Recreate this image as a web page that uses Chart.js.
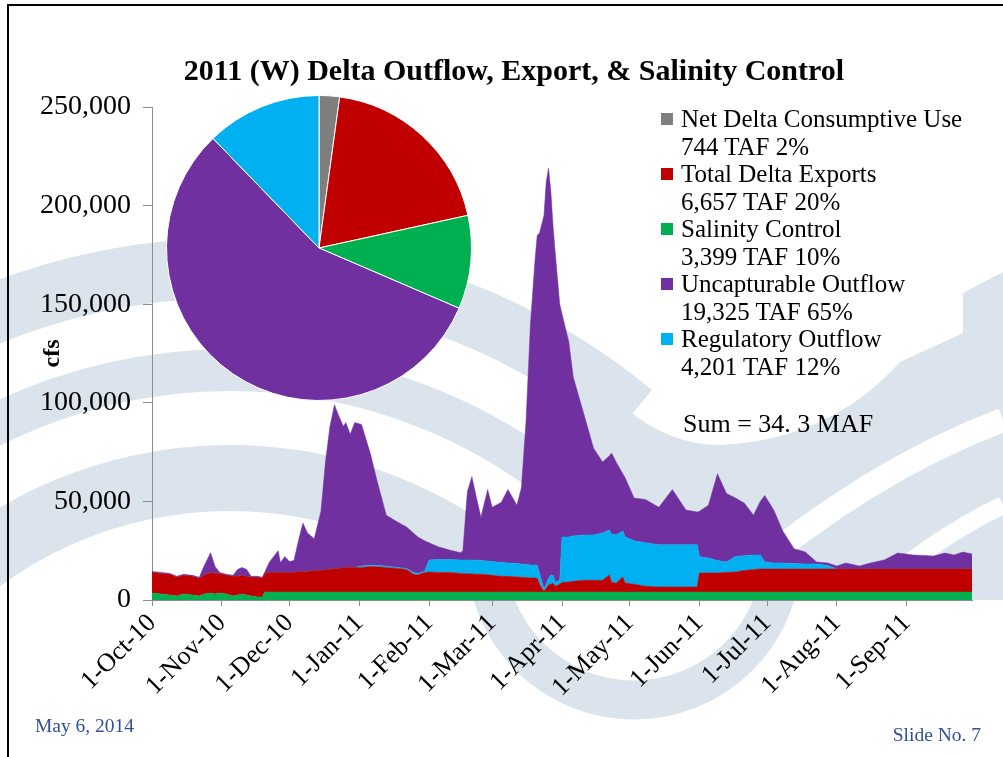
<!DOCTYPE html>
<html>
<head>
<meta charset="utf-8">
<script src="https://cdn.jsdelivr.net/npm/chart.js@4.4.1/dist/chart.umd.min.js"></script>
<style>
  html, body { margin: 0; padding: 0; background: #fff; }
  #stage { position: relative; width: 1003px; height: 757px; overflow: hidden;
           font-family: 'Liberation Serif', 'Times New Roman', serif; color: #000; }
  #bg, #mainChart, #pieChart { position: absolute; left: 0; top: 0; }
  #pieChart { left: 166px; top: 95px; }
  #frameTop { position: absolute; left: 8px; top: 4px; width: 995px; height: 2px; background: #000; }
  #frameLeft { position: absolute; left: 7px; top: 4px; width: 2px; height: 753px; background: #000; }
  #title { position: absolute; left: 0; width: 1028px; top: 51px; text-align: center;
           font-weight: bold; font-size: 30px; line-height: 38px; }
  #legend { position: absolute; left: 661px; top: 105px; font-size: 25px; line-height: 27.5px; }
  #legend .row { position: relative; padding-left: 20px; white-space: nowrap; }
  #legend .sw { position: absolute; left: 0; top: 8px; width: 12px; height: 12px; }
  #sum { position: absolute; left: 683px; top: 409px; font-size: 26px; line-height: 30px; }
  #date { position: absolute; left: 35px; top: 715px; font-size: 19.5px; color: #2f4f9a; }
  #slide { position: absolute; right: 22px; top: 724px; font-size: 19.5px; color: #2f4f9a; }
</style>
</head>
<body>
<div id="stage">
  <canvas id="bg" width="1003" height="757"></canvas>
  <div id="frameTop"></div>
  <div id="frameLeft"></div>
  <canvas id="mainChart" width="1003" height="757"></canvas>
  <canvas id="pieChart" width="306" height="306"></canvas>
  <div id="title">2011 (W) Delta Outflow, Export, &amp; Salinity Control</div>
  <div id="legend"></div>
  <div id="sum">Sum = 34. 3 MAF</div>
  <div id="date">May 6, 2014</div>
  <div id="slide">Slide No. 7</div>
</div>
<script>
// days since 1-Oct-10 (water year 2011)
const days = [
  0, 4, 8, 11, 14, 18, 21, 23, 26, 28,
  30, 33, 36, 38, 40, 42, 44, 47, 49, 50,
  52, 54, 56, 57, 59, 61, 63, 65, 67, 69,
  72, 75, 77, 79, 81, 83, 85, 86, 88, 90,
  93, 97, 100, 104, 109, 113, 116, 118, 121, 123,
  127, 132, 137, 138, 140, 142, 144, 146, 149, 151,
  155, 158, 162, 164, 166, 168, 170, 171, 172, 174,
  175, 176, 177, 178, 179, 181, 182, 185, 187, 192,
  196, 200, 203, 204, 206, 209, 210, 214, 219, 225,
  231, 237, 242, 243, 247, 251, 255, 259, 263, 267,
  270, 272, 276, 280, 285, 290, 295, 300, 304, 308,
  314, 319, 325, 331, 338, 347, 352, 356, 360, 364
];

// cfs, stacked bottom to top
const salinityControl = [
  3500, 3000, 2500, 2000, 3000, 2500, 2000, 3000, 3500, 3000,
  3500, 3000, 2000, 2500, 3000, 2500, 2000, 1500, 1500, 4000,
  4000, 4000, 4000, 4000, 4000, 4000, 4000, 4000, 4000, 4000,
  4000, 4000, 4000, 4000, 4000, 4000, 4000, 4000, 4000, 4000,
  4000, 4000, 4000, 4000, 4000, 4000, 4000, 4000, 4000, 4000,
  4000, 4000, 4000, 4000, 4000, 4000, 4000, 4000, 4000, 4000,
  4000, 4000, 4000, 4000, 4000, 4000, 4000, 4000, 4000, 4000,
  4000, 4000, 4000, 4000, 4000, 4000, 4000, 4000, 4000, 4000,
  4000, 4000, 4000, 4000, 4000, 4000, 4000, 4000, 4000, 4000,
  4000, 4000, 4000, 4000, 4000, 4000, 4000, 4000, 4000, 4000,
  4000, 4000, 4000, 4000, 4000, 4000, 4000, 4000, 4000, 4000,
  4000, 4000, 4000, 4000, 4000, 4000, 4000, 4000, 4000, 4000
];

const totalExports = [
  10500, 10500, 10500, 9500, 9500, 9500, 9000, 9500, 10500, 10500,
  10000, 9500, 10000, 9500, 9500, 9500, 9500, 10000, 9500, 9500,
  10000, 10000, 10000, 10000, 10000, 10000, 10000, 10500, 10500, 10500,
  11000, 11000, 11500, 11500, 12000, 12000, 12500, 12500, 12500, 12500,
  12500, 13000, 12800, 12500, 12000, 11500, 9000, 8700, 10000, 10200,
  10000, 10000, 9500, 9500, 9300, 9200, 9100, 9000, 8800, 8500,
  8000, 8000, 7700, 7500, 7400, 7200, 7200, 7000, 4000, 500,
  2000, 3600, 4000, 4600, 3000, 4000, 5000, 5100, 5500, 6000,
  6000, 6000, 8700, 5000, 4500, 7700, 4600, 4000, 3000, 2600,
  2600, 2600, 2600, 9700, 9700, 9700, 10000, 10200, 11000, 11500,
  11700, 11700, 11700, 11700, 11700, 11700, 11700, 11700, 11700, 11700,
  11700, 11700, 11700, 11700, 11700, 11700, 11700, 11700, 11700, 11700
];

const regulatoryOutflow = [
  0, 0, 0, 0, 0, 0, 0, 0, 0, 0,
  0, 0, 0, 0, 0, 0, 0, 0, 0, 0,
  0, 0, 0, 0, 0, 0, 0, 0, 0, 0,
  0, 0, 0, 0, 0, 0, 0, 0, 0, 0,
  700, 700, 700, 700, 500, 500, 1000, 800, 500, 6100,
  6500, 6500, 6800, 6800, 7000, 7100, 7100, 7000, 7000, 7000,
  7000, 6800, 6800, 6700, 6600, 6500, 6500, 6500, 5700, 1000,
  2000, 3400, 4500, 4100, 2000, 2000, 23000, 22900, 23000, 23000,
  23000, 24000, 22800, 24500, 24500, 23300, 23400, 22000, 22000, 21400,
  21400, 21400, 21400, 8300, 7600, 6300, 5300, 7800, 7500, 7300,
  7100, 3600, 3100, 3100, 2800, 2600, 2600, 1800, 0, 0,
  0, 0, 0, 0, 0, 0, 0, 0, 0, 0
];

const uncapturableOutflow = [
  500, 500, 500, 500, 500, 500, 500, 4500, 10000, 3500,
  500, 500, 500, 3500, 4000, 3500, 500, 500, 500, 500,
  5000, 8000, 11000, 5000, 8000, 5500, 6000, 15500, 24500, 19500,
  16000, 30000, 54500, 72500, 83000, 77000, 71500, 73500, 67500, 73500,
  71800, 56300, 42500, 25800, 23000, 21000, 20000, 18500, 15500, 8700,
  6500, 4800, 3700, 4700, 34700, 42200, 31800, 22000, 36200, 27500,
  30500, 37200, 29500, 38800, 72000, 122300, 154300, 167500, 172300, 189500,
  204000, 208000, 195500, 177300, 167000, 140000, 113000, 99000, 80500, 60000,
  44000, 36000, 37500, 41000, 37000, 29000, 30000, 21700, 22000, 19000,
  28000, 17600, 16600, 23000, 26700, 44000, 34700, 29700, 26500, 20200,
  27200, 33700, 26800, 16200, 7500, 6000, 1000, 1300, 1500, 3100,
  1500, 3100, 4600, 8100, 7100, 6600, 8100, 7100, 8600, 7600
];

const monthTicks = [0, 31, 61, 92, 123, 151, 182, 212, 243, 273, 304, 335];
const monthLabels = ['1-Oct-10', '1-Nov-10', '1-Dec-10', '1-Jan-11', '1-Feb-11', '1-Mar-11',
  '1-Apr-11', '1-May-11', '1-Jun-11', '1-Jul-11', '1-Aug-11', '1-Sep-11'];

// pie: annual volumes (TAF)
const pieLabels = ['Net Delta Consumptive Use', 'Total Delta Exports', 'Salinity Control',
  'Uncapturable Outflow', 'Regulatory Outflow'];
const pieValues = [744, 6657, 3399, 19325, 4201];
const piePercents = ['2%', '20%', '10%', '65%', '12%'];

const GREEN = '#00b050', RED = '#c00000', BLUE = '#00b0f0', PURPLE = '#7030a0', GRAY = '#7f7f7f';
const pieColors = [GRAY, RED, GREEN, PURPLE, BLUE];
const WAVE = '#dbe3ec';
const FONT = "'Liberation Serif', 'Times New Roman', serif";

function drawBackdrop() {
  const ctx = document.getElementById('bg').getContext('2d');
  ctx.fillStyle = '#fff';
  ctx.fillRect(0, 0, 1003, 757);

  // right-hand swoosh
  ctx.fillStyle = WAVE;
  ctx.beginPath();
  ctx.moveTo(545, 300);
  ctx.quadraticCurveTo(620, 445, 720, 445);
  ctx.quadraticCurveTo(830, 440, 900, 362);
  ctx.lineTo(963, 333);
  ctx.lineTo(963, 293);
  ctx.lineTo(1003, 272);
  ctx.lineTo(1003, 600);
  ctx.lineTo(545, 600);
  ctx.closePath();
  ctx.fill();

  ctx.strokeStyle = '#fff';
  ctx.lineWidth = 24;
  ctx.beginPath();
  ctx.moveTo(740, 580);
  ctx.quadraticCurveTo(870, 470, 1003, 420);
  ctx.stroke();
  ctx.lineWidth = 18;
  ctx.beginPath();
  ctx.moveTo(850, 610);
  ctx.quadraticCurveTo(930, 540, 1003, 505);
  ctx.stroke();

  // arcs from the left
  ctx.strokeStyle = WAVE;
  [[632, 60], [530, 42], [422, 66]].forEach(([r, w]) => {
    ctx.lineWidth = w;
    ctx.beginPath();
    ctx.arc(230, 900, r, Math.PI * 1.05, Math.PI * 1.72);
    ctx.stroke();
  });

  // lower bowl
  ctx.lineWidth = 39;
  ctx.beginPath();
  ctx.arc(634, 552, 148, 0, Math.PI);
  ctx.stroke();
}

function series(values) {
  return days.map((d, i) => ({ x: d, y: values[i] }));
}

function areaSet(label, values, color, fill) {
  return {
    label: label,
    data: series(values),
    backgroundColor: color,
    borderColor: color,
    borderWidth: 0.5,
    pointRadius: 0,
    tension: 0,
    fill: fill
  };
}

function renderLegend() {
  const box = document.getElementById('legend');
  box.innerHTML = '';
  pieLabels.forEach((label, i) => {
    const row = document.createElement('div');
    row.className = 'row';
    row.innerHTML = `<span class="sw" style="background:${pieColors[i]}"></span>${label}<br>` +
      `${pieValues[i].toLocaleString('en-US')} TAF ${piePercents[i]}`;
    box.appendChild(row);
  });
}

drawBackdrop();
renderLegend();

Chart.defaults.font.family = FONT;
Chart.defaults.color = '#000';

const mainChart = new Chart(document.getElementById('mainChart').getContext('2d'), {
  type: 'line',
  data: {
    datasets: [
      areaSet('Salinity Control', salinityControl, GREEN, 'origin'),
      areaSet('Total Delta Exports', totalExports, RED, '-1'),
      areaSet('Regulatory Outflow', regulatoryOutflow, BLUE, '-1'),
      areaSet('Uncapturable Outflow', uncapturableOutflow, PURPLE, '-1')
    ]
  },
  options: {
    responsive: false,
    animation: false,
    layout: { padding: { left: 38, right: 31, top: 107, bottom: 0 } },
    plugins: { legend: { display: false }, tooltip: { enabled: false } },
    scales: {
      x: {
        type: 'linear',
        min: 0,
        max: 364,
        afterBuildTicks: (scale) => { scale.ticks = monthTicks.map(v => ({ value: v })); },
        afterFit: (scale) => { scale.height = 157; },
        grid: { drawOnChartArea: false, drawTicks: true, tickLength: 6, color: '#8c8c8c' },
        border: { display: true, color: '#8c8c8c' },
        ticks: {
          autoSkip: false,
          minRotation: 45,
          maxRotation: 45,
          padding: 2,
          font: { size: 26 },
          callback: (value, index) => monthLabels[index]
        }
      },
      y: {
        stacked: true,
        min: 0,
        max: 250000,
        afterFit: (scale) => { scale.width = 114; },
        grid: { drawOnChartArea: false, drawTicks: true, tickLength: 9, color: '#8c8c8c' },
        border: { display: true, color: '#8c8c8c' },
        title: { display: true, text: 'cfs', font: { size: 24, weight: 'bold' }, padding: 0 },
        ticks: {
          stepSize: 50000,
          padding: 12,
          font: { size: 28 },
          callback: (value) => value.toLocaleString('en-US')
        }
      }
    }
  }
});

const pieChart = new Chart(document.getElementById('pieChart').getContext('2d'), {
  type: 'pie',
  data: {
    labels: pieLabels,
    datasets: [{
      data: pieValues,
      backgroundColor: pieColors,
      borderColor: '#fff',
      borderWidth: 1
    }]
  },
  options: {
    responsive: false,
    animation: false,
    layout: { padding: 0 },
    plugins: { legend: { display: false }, tooltip: { enabled: false } }
  }
});
</script>
</body>
</html>
